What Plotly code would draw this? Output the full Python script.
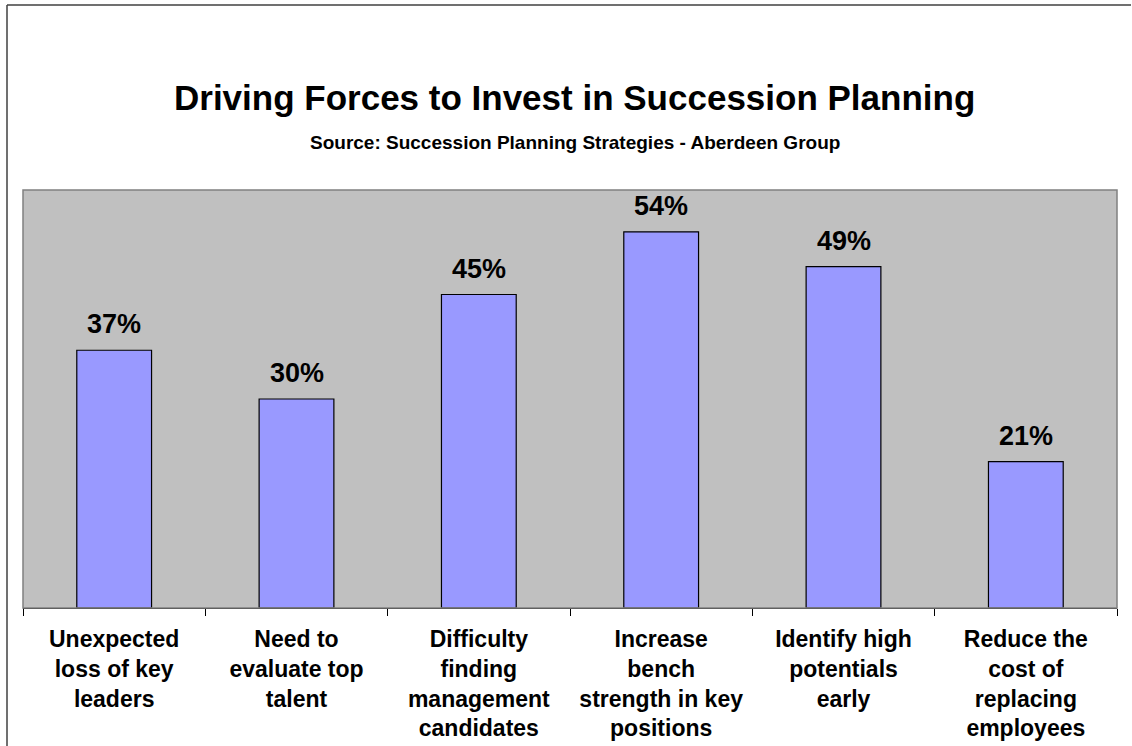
import plotly.graph_objects as go

# Survey results: share of respondents citing each driver
categories = [
    "Unexpected<br>loss of key<br>leaders",
    "Need to<br>evaluate top<br>talent",
    "Difficulty<br>finding<br>management<br>candidates",
    "Increase<br>bench<br>strength in key<br>positions",
    "Identify high<br>potentials<br>early",
    "Reduce the<br>cost of<br>replacing<br>employees",
]
values = [37, 30, 45, 54, 49, 21]

title_text = "Driving Forces to Invest in Succession Planning"
subtitle_text = "Source: Succession Planning Strategies - Aberdeen Group"

W, H = 1132, 746
M_L, M_R, M_T, M_B = 23, 15, 190, 138
PW, PH = W - M_L - M_R, H - M_T - M_B

FONT = "Liberation Sans, Arial, Helvetica, sans-serif"


def px_x(px):
    return (px - M_L) / PW


def px_y(py):
    return 1 - (py - M_T) / PH


fig = go.Figure(
    go.Bar(
        x=categories,
        y=values,
        width=0.41,
        marker=dict(color="#9999FF", line=dict(color="black", width=1.2)),
        hoverinfo="skip",
    )
)

# value labels above each bar
for c, v in zip(categories, values):
    fig.add_annotation(
        x=c, y=v, text=f"{v}%", showarrow=False,
        yanchor="bottom", yshift=9,
        font=dict(family=FONT, size=27, color="black", weight="bold"),
    )

# title and source line
fig.add_annotation(
    x=px_x(574), y=px_y(98), xref="paper", yref="paper",
    text=title_text, showarrow=False, xanchor="center", yanchor="middle",
    font=dict(family=FONT, size=35, color="black", weight="bold"),
)
fig.add_annotation(
    x=px_x(575), y=px_y(142), xref="paper", yref="paper",
    text=subtitle_text, showarrow=False, xanchor="center", yanchor="middle",
    font=dict(family=FONT, size=19, color="black", weight="bold"),
)

# plot-area frame
fig.add_shape(type="rect", xref="paper", yref="paper", x0=0, x1=1, y0=0, y1=1,
              line=dict(color="#808080", width=1.5), layer="above")
# outer chart frame (left and top edges)
fig.add_shape(type="line", xref="paper", yref="paper",
              x0=px_x(7), x1=px_x(7), y0=px_y(5), y1=px_y(H + 5),
              line=dict(color="#404040", width=1.5))
fig.add_shape(type="line", xref="paper", yref="paper",
              x0=px_x(7), x1=px_x(W - 1), y0=px_y(5), y1=px_y(5),
              line=dict(color="#404040", width=1.5))

fig.update_layout(
    width=W, height=H,
    margin=dict(l=M_L, r=M_R, t=M_T, b=M_B, pad=0, autoexpand=False),
    paper_bgcolor="white",
    plot_bgcolor="#C0C0C0",
    showlegend=False,
    bargap=0.59,
    xaxis=dict(
        type="category",
        tickson="boundaries",
        automargin=False,
        ticks="outside", ticklen=7, tickcolor="black", tickwidth=1,
        ticklabelstandoff=10,
        showline=True, linecolor="black", linewidth=1.2,
        showgrid=False, zeroline=False,
        tickfont=dict(family=FONT, size=23, color="black", weight="bold"),
        fixedrange=True,
    ),
    yaxis=dict(
        range=[0, 60], visible=False, showgrid=False, zeroline=False,
        automargin=False, fixedrange=True,
    ),
)

fig.write_html("out.html")
